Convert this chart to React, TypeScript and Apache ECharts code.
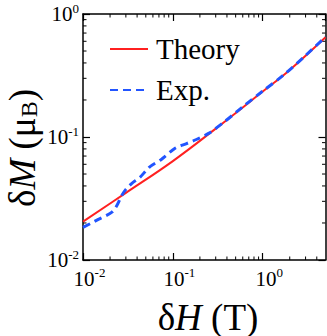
import React, { useEffect, useRef } from "react";
import * as echarts from "echarts";

const FONT = "Liberation Serif";

const theoryX = [0.01, 0.03, 0.1, 0.3, 1, 2, 5];
const theoryY = [0.0205, 0.0351, 0.0637, 0.117, 0.234, 0.351, 0.647];

const expX = [0.01, 0.015, 0.021, 0.024, 0.027, 0.03, 0.035, 0.043, 0.055, 0.075, 0.106, 0.14, 0.18, 0.25, 0.38, 0.6, 1, 1.7, 3, 5];
const expY = [0.0184, 0.0215, 0.0245, 0.028, 0.0335, 0.0375, 0.042, 0.047, 0.057, 0.066, 0.081, 0.088, 0.095, 0.107, 0.134, 0.176, 0.236, 0.318, 0.46, 0.652];

const xMinorTicks = [0.02, 0.03, 0.04, 0.05, 0.06, 0.07, 0.08, 0.09, 0.2, 0.3, 0.4, 0.5, 0.6, 0.7, 0.8, 0.9, 2, 3, 4];
const yMinorTicks = [0.02, 0.03, 0.04, 0.05, 0.06, 0.07, 0.08, 0.09, 0.2, 0.3, 0.4, 0.5, 0.6, 0.7, 0.8, 0.9];

const X_MIN = 0.01, X_MAX = 5, Y_MIN = 0.01, Y_MAX = 1;

const RED = "#ff2020";
const BLUE = "#2255ff";

const tickRich = {
  b: { fontFamily: FONT, fontSize: 21, color: "#000" },
  s: { fontFamily: FONT, fontSize: 13, color: "#000", padding: [0, 0, 12, 0] },
};
const tickRichX = {
  b: { fontFamily: FONT, fontSize: 21, color: "#000", padding: [0, 0, 0, 13] },
  s: { fontFamily: FONT, fontSize: 13, color: "#000", padding: [0, 0, 12, 0] },
};

const fmt = (v: number) => {
  const e = Math.round(Math.log10(v));
  return `{b|10}{s|${e}}`;
};

export default function App() {
  const ref = useRef<HTMLDivElement>(null);
  useEffect(() => {
    if (!ref.current) return;
    const chart = echarts.init(ref.current, null, { renderer: "svg" });
    const axisLine = { show: true, lineStyle: { color: "#000", width: 1.5 } };
    const axisTick = { show: true, inside: true, length: 7, lineStyle: { color: "#000", width: 1.2 } };
    const option: any = {
      animation: false,
      backgroundColor: "#fff",
      grid: { left: 83, top: 14, right: 1.5, bottom: 76, containLabel: false },
      legend: {
        data: ["Theory", "Exp."],
        orient: "vertical",
        left: 104,
        top: 29,
        itemWidth: 38,
        itemHeight: 14,
        itemGap: 11,
        itemStyle: { opacity: 0 },
        textStyle: { fontFamily: FONT, fontSize: 29, color: "#000", padding: [0, 0, 0, 3], lineHeight: 30 },
      },
      xAxis: [
        {
          type: "log", min: X_MIN, max: X_MAX, position: "bottom",
          axisLine, axisTick, splitLine: { show: false },
          axisLabel: { formatter: fmt, rich: tickRichX, margin: 6, showMaxLabel: false },
        },
        {
          type: "log", min: X_MIN, max: X_MAX, position: "top",
          axisLine, axisTick, splitLine: { show: false }, axisLabel: { show: false },
        },
      ],
      yAxis: [
        {
          type: "log", min: Y_MIN, max: Y_MAX, position: "left",
          axisLine, axisTick, splitLine: { show: false },
          axisLabel: { formatter: fmt, rich: tickRich, margin: 4 },
        },
        {
          type: "log", min: Y_MIN, max: Y_MAX, position: "right",
          axisLine, axisTick, splitLine: { show: false }, axisLabel: { show: false },
        },
      ],
      series: [
        {
          name: "Theory", type: "line", data: theoryX.map((x, i) => [x, theoryY[i]]),
          symbol: "none", smooth: 0.4, lineStyle: { color: RED, width: 2 }, itemStyle: { color: RED },
        },
        {
          name: "Exp.", type: "line", data: expX.map((x, i) => [x, expY[i]]),
          symbol: "none", smooth: 0.3, lineStyle: { color: BLUE, width: 3, type: [8, 5] }, itemStyle: { color: BLUE },
        },
        {
          name: "xminor", type: "custom", data: xMinorTicks.map((v) => [v, 0.1]), silent: true,
          renderItem: (params: any, api: any) => {
            const cs = params.coordSys;
            const px = api.coord([api.value(0), api.value(1)])[0];
            const top = cs.y, bottom = cs.y + cs.height;
            return {
              type: "group",
              children: [
                { type: "line", shape: { x1: px, y1: bottom, x2: px, y2: bottom - 3.5 }, style: { stroke: "#000", lineWidth: 1 } },
                { type: "line", shape: { x1: px, y1: top, x2: px, y2: top + 3.5 }, style: { stroke: "#000", lineWidth: 1 } },
              ],
            };
          },
        },
        {
          name: "yminor", type: "custom", data: yMinorTicks.map((v) => [0.1, v]), silent: true,
          renderItem: (params: any, api: any) => {
            const cs = params.coordSys;
            const py = api.coord([api.value(0), api.value(1)])[1];
            const left = cs.x, right = cs.x + cs.width;
            return {
              type: "group",
              children: [
                { type: "line", shape: { x1: left, y1: py, x2: left + 3.5, y2: py }, style: { stroke: "#000", lineWidth: 1 } },
                { type: "line", shape: { x1: right, y1: py, x2: right - 3.5, y2: py }, style: { stroke: "#000", lineWidth: 1 } },
              ],
            };
          },
        },
      ],
      graphic: [
        {
          type: "text", x: 208, y: 317,
          style: {
            text: "{n|δ}{i|H}{n| (T)}",
            align: "center", verticalAlign: "middle",
            rich: {
              n: { fontFamily: FONT, fontSize: 37, lineHeight: 36, color: "#000" },
              i: { fontFamily: FONT, fontSize: 37, lineHeight: 36, fontStyle: "italic", color: "#000" },
            },
          },
        },
        {
          type: "text", x: 22, y: 148, rotation: Math.PI / 2,
          style: {
            text: "{n|δ}{i|M}{n| (μ}{sub|B}{n|)}",
            align: "center", verticalAlign: "middle",
            rich: {
              n: { fontFamily: FONT, fontSize: 37, color: "#000" },
              i: { fontFamily: FONT, fontSize: 37, fontStyle: "italic", color: "#000" },
              sub: { fontFamily: FONT, fontSize: 24, color: "#000", padding: [14, 0, 0, 0] },
            },
          },
        },
      ],
    };
    chart.setOption(option);
    return () => chart.dispose();
  }, []);
  return <div ref={ref} style={{ width: 327, height: 336, position: "absolute", left: 0, top: 0 }} />;
}
